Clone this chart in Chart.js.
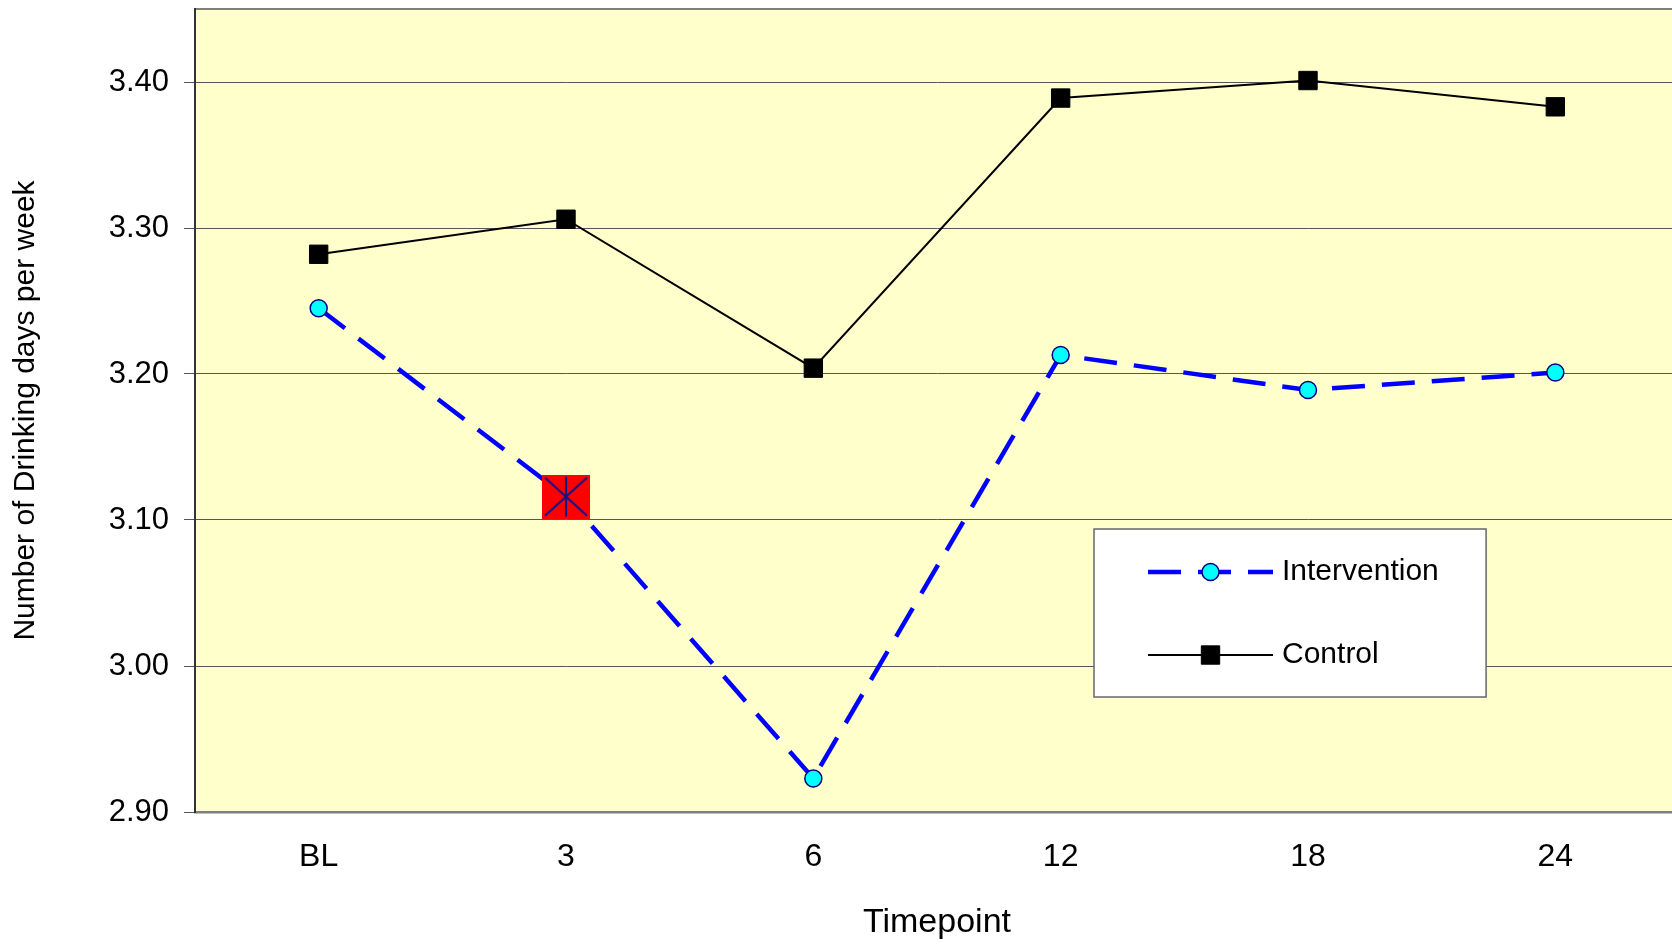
<!DOCTYPE html>
<html>
<head>
<meta charset="utf-8">
<script src="https://cdn.jsdelivr.net/npm/chart.js@4"></script>
<style>
  html, body { margin: 0; background: #fff; overflow: hidden; }
  canvas { display: block; }
</style>
</head>
<body>
<!-- plot runs a few px past the right edge, as in the original -->
<canvas id="chart" width="1679" height="945"></canvas>
<script>
// data
var timepoints = ['BL', '3', '6', '12', '18', '24'];
var intervention = [3.245, 3.116, 2.923, 3.213, 3.189, 3.201];
var control = [3.282, 3.306, 3.204, 3.389, 3.401, 3.383];
var yTicks = [2.90, 3.00, 3.10, 3.20, 3.30, 3.40];
var yMin = 2.90;
var yMax = 3.45;

var fontFam = 'Arial, "Liberation Sans", Helvetica, sans-serif';

// red square with asterisk for the marked point
function starSquare() {
    var c = document.createElement('canvas');
    c.width = 48; c.height = 44;
    var g = c.getContext('2d');
    g.fillStyle = '#ff0000';
    g.fillRect(0, 0, 48, 44);
    g.strokeStyle = '#14148a';
    g.lineWidth = 2.2;
    g.beginPath();
    g.moveTo(24, 2); g.lineTo(24, 42);
    g.moveTo(3, 3); g.lineTo(45, 41);
    g.moveTo(45, 3); g.lineTo(3, 41);
    g.stroke();
    return c;
}
var marked = starSquare();

// plot background + top border
var plotBg = {
    id: 'plotBg',
    beforeDraw: function (chart) {
        var a = chart.chartArea, ctx = chart.ctx;
        ctx.save();
        ctx.fillStyle = '#ffffcc';
        ctx.fillRect(a.left, a.top, a.right - a.left, a.bottom - a.top);
        ctx.strokeStyle = '#808080';
        ctx.lineWidth = 2;
        ctx.beginPath();
        ctx.moveTo(a.left, a.top);
        ctx.lineTo(a.right, a.top);
        ctx.stroke();
        ctx.restore();
    }
};

// boxed legend inside the plot
var boxLegend = {
    id: 'boxLegend',
    afterDraw: function (chart, args, opts) {
        var a = chart.chartArea, ctx = chart.ctx;
        var w = a.right - a.left, h = a.bottom - a.top;
        var x0 = a.left + opts.left * w, x1 = a.left + opts.right * w;
        var y0 = a.top + opts.top * h, y1 = a.top + opts.bottom * h;
        ctx.save();
        ctx.fillStyle = '#ffffff';
        ctx.fillRect(x0, y0, x1 - x0, y1 - y0);
        ctx.strokeStyle = '#666666';
        ctx.lineWidth = 1.5;
        ctx.strokeRect(x0, y0, x1 - x0, y1 - y0);

        chart.data.datasets.forEach(function (ds, i) {
            var y = y0 + opts.rows[i];
            var lx0 = x0 + opts.lineStart, lx1 = x0 + opts.lineEnd;
            ctx.strokeStyle = ds.borderColor;
            ctx.lineWidth = ds.borderWidth;
            ctx.setLineDash(ds.borderDash || []);
            ctx.beginPath();
            ctx.moveTo(lx0, y);
            ctx.lineTo(lx1, y);
            ctx.stroke();
            ctx.setLineDash([]);
            var cx = (lx0 + lx1) / 2;
            ctx.fillStyle = ds.pointBackgroundColor;
            ctx.strokeStyle = ds.pointBorderColor;
            ctx.lineWidth = ds.pointBorderWidth;
            ctx.beginPath();
            if (ds.legendStyle === 'circle') {
                ctx.arc(cx, y, ds.pointRadius, 0, Math.PI * 2);
            } else {
                var s = ds.pointRadius * Math.SQRT1_2;
                ctx.rect(cx - s, y - s, 2 * s, 2 * s);
            }
            ctx.fill();
            ctx.stroke();
            ctx.fillStyle = '#000';
            ctx.font = '30px ' + fontFam;
            ctx.textBaseline = 'middle';
            ctx.textAlign = 'left';
            ctx.fillText(ds.label, x0 + opts.textStart, y);
        });
        ctx.restore();
    }
};

var ctx = document.getElementById('chart').getContext('2d');
var chart = new Chart(ctx, {
    type: 'line',
    data: {
        labels: timepoints,
        datasets: [{
            label: 'Intervention',
            data: intervention,
            borderColor: '#0000ff',
            borderWidth: 4.5,
            borderDash: [33, 17],
            borderCapStyle: 'butt',
            tension: 0,
            pointStyle: timepoints.map(function (t, i) { return i === 1 ? marked : 'circle'; }),
            legendStyle: 'circle',
            pointRadius: 8.5,
            pointBackgroundColor: '#00ffff',
            pointBorderColor: '#000080',
            pointBorderWidth: 1.5
        }, {
            label: 'Control',
            data: control,
            borderColor: '#000000',
            borderWidth: 2,
            tension: 0,
            pointStyle: 'rect',
            legendStyle: 'rect',
            pointRadius: 13,
            pointBackgroundColor: '#000000',
            pointBorderColor: '#000000',
            pointBorderWidth: 1
        }]
    },
    options: {
        responsive: false,
        animation: false,
        events: [],
        layout: { autoPadding: false, padding: { top: 9, right: 0, left: 0, bottom: 0 } },
        plugins: {
            legend: { display: false },
            tooltip: { enabled: false },
            boxLegend: {
                left: 0.6058, right: 0.8700, top: 0.6476, bottom: 0.8568,
                rows: [43, 126], lineStart: 54, lineEnd: 179, textStart: 188
            }
        },
        scales: {
            x: {
                offset: true,
                grid: { display: false, drawTicks: false },
                border: { display: true, color: '#808080', width: 2.5 },
                ticks: { color: '#000', font: { family: fontFam, size: 32 }, padding: 26 },
                title: {
                    display: true, text: 'Timepoint', color: '#000',
                    font: { family: fontFam, size: 34 }, padding: { top: 0, bottom: 2 }
                },
                afterFit: function (s) {
                    s.height = 133;
                    s.paddingLeft = 0;
                    s.paddingRight = 0;
                }
            },
            y: {
                min: yMin,
                max: yMax,
                grid: { color: '#555555', lineWidth: 1, tickLength: 11 },
                border: { display: true, color: '#333333', width: 2 },
                ticks: {
                    color: '#000', font: { family: fontFam, size: 31 }, padding: 15,
                    callback: function (v) { return Number(v).toFixed(2); }
                },
                afterBuildTicks: function (s) {
                    s.ticks = yTicks.map(function (v) { return { value: v }; });
                },
                title: {
                    display: true, text: 'Number of Drinking days per week', color: '#000',
                    font: { family: fontFam, size: 30 }, padding: { top: 8, bottom: 0 }
                },
                afterFit: function (s) {
                    s.width = 195;
                    s.paddingTop = 0;
                    s.paddingBottom = 0;
                }
            }
        }
    },
    plugins: [plotBg, boxLegend]
});
</script>
</body>
</html>
